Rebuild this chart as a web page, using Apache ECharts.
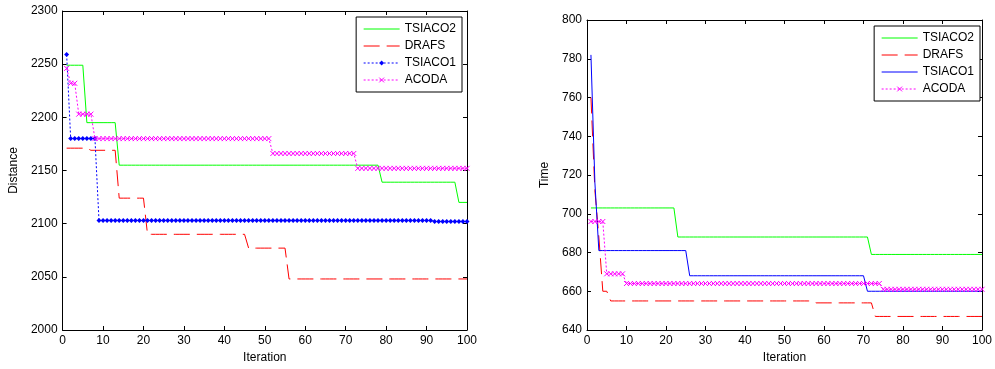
<!DOCTYPE html>
<html><head><meta charset="utf-8">
<script src="https://cdn.jsdelivr.net/npm/echarts@6/dist/echarts.min.js"></script>
<style>
html,body{margin:0;padding:0;background:#fff;}
#c1{position:absolute;left:0;top:0;width:520px;height:369px;}
#c2{position:absolute;left:520px;top:0;width:475px;height:369px;}
</style></head><body><div id="c1"></div><div id="c2"></div>
<script>
// ---- Data ----
const seriesNames = ['TSIACO2', 'DRAFS', 'TSIACO1', 'ACODA'];
const xTicks = [0, 10, 20, 30, 40, 50, 60, 70, 80, 90, 100];
const distTicks = [2000, 2050, 2100, 2150, 2200, 2250, 2300];
const timeTicks = [640, 660, 680, 700, 720, 740, 760, 780, 800];

// Left chart: Distance per iteration (1..100)
const distTSIACO2 = [
2249,2249,2249,2249,2249,2195,2195,2195,2195,2195,
2195,2195,2195,2155,2155,2155,2155,2155,2155,2155,
2155,2155,2155,2155,2155,2155,2155,2155,2155,2155,
2155,2155,2155,2155,2155,2155,2155,2155,2155,2155,
2155,2155,2155,2155,2155,2155,2155,2155,2155,2155,
2155,2155,2155,2155,2155,2155,2155,2155,2155,2155,
2155,2155,2155,2155,2155,2155,2155,2155,2155,2155,
2155,2155,2155,2155,2155,2155,2155,2155,2139,2139,
2139,2139,2139,2139,2139,2139,2139,2139,2139,2139,
2139,2139,2139,2139,2139,2139,2139,2120,2120,2120];
const distDRAFS = [
2171,2171,2171,2171,2171,2171,2169,2169,2169,2169,
2169,2169,2169,2124,2124,2124,2124,2124,2124,2124,
2090,2090,2090,2090,2090,2090,2090,2090,2090,2090,
2090,2090,2090,2090,2090,2090,2090,2090,2090,2090,
2090,2090,2090,2090,2090,2077,2077,2077,2077,2077,
2077,2077,2077,2077,2077,2048,2048,2048,2048,2048,
2048,2048,2048,2048,2048,2048,2048,2048,2048,2048,
2048,2048,2048,2048,2048,2048,2048,2048,2048,2048,
2048,2048,2048,2048,2048,2048,2048,2048,2048,2048,
2048,2048,2048,2048,2048,2048,2048,2048,2048,2048];
const distTSIACO1 = [
2259,2180,2180,2180,2180,2180,2180,2180,2103,2103,
2103,2103,2103,2103,2103,2103,2103,2103,2103,2103,
2103,2103,2103,2103,2103,2103,2103,2103,2103,2103,
2103,2103,2103,2103,2103,2103,2103,2103,2103,2103,
2103,2103,2103,2103,2103,2103,2103,2103,2103,2103,
2103,2103,2103,2103,2103,2103,2103,2103,2103,2103,
2103,2103,2103,2103,2103,2103,2103,2103,2103,2103,
2103,2103,2103,2103,2103,2103,2103,2103,2103,2103,
2103,2103,2103,2103,2103,2103,2103,2103,2103,2103,
2103,2102,2102,2102,2102,2102,2102,2102,2102,2102];
const distACODA = [
2246,2232,2232,2203,2203,2203,2203,2180,2180,2180,
2180,2180,2180,2180,2180,2180,2180,2180,2180,2180,
2180,2180,2180,2180,2180,2180,2180,2180,2180,2180,
2180,2180,2180,2180,2180,2180,2180,2180,2180,2180,
2180,2180,2180,2180,2180,2180,2180,2180,2180,2180,
2180,2166,2166,2166,2166,2166,2166,2166,2166,2166,
2166,2166,2166,2166,2166,2166,2166,2166,2166,2166,
2166,2166,2152,2152,2152,2152,2152,2152,2152,2152,
2152,2152,2152,2152,2152,2152,2152,2152,2152,2152,
2152,2152,2152,2152,2152,2152,2152,2152,2152,2152];

// Right chart: Time per iteration (1..100)
const timeTSIACO2 = [
703,703,703,703,703,703,703,703,703,703,
703,703,703,703,703,703,703,703,703,703,
703,703,688,688,688,688,688,688,688,688,
688,688,688,688,688,688,688,688,688,688,
688,688,688,688,688,688,688,688,688,688,
688,688,688,688,688,688,688,688,688,688,
688,688,688,688,688,688,688,688,688,688,
688,679,679,679,679,679,679,679,679,679,
679,679,679,679,679,679,679,679,679,679,
679,679,679,679,679,679,679,679,679,679];
const timeDRAFS = [
760,712,688,660,660,655,655,655,655,655,
655,655,655,655,655,655,655,655,655,655,
655,655,655,655,655,655,655,655,655,655,
655,655,655,655,655,655,655,655,655,655,
655,655,655,655,655,655,655,655,655,655,
655,655,655,655,655,655,655,654,654,654,
654,654,654,654,654,654,654,654,654,654,
654,654,647,647,647,647,647,647,647,647,
647,647,647,647,647,647,647,647,647,647,
647,647,647,647,647,647,647,647,647,647];
const timeTSIACO1 = [
782,716,681,681,681,681,681,681,681,681,
681,681,681,681,681,681,681,681,681,681,
681,681,681,681,681,668,668,668,668,668,
668,668,668,668,668,668,668,668,668,668,
668,668,668,668,668,668,668,668,668,668,
668,668,668,668,668,668,668,668,668,668,
668,668,668,668,668,668,668,668,668,668,
660,660,660,660,660,660,660,660,660,660,
660,660,660,660,660,660,660,660,660,660,
660,660,660,660,660,660,660,660,660,660];
const timeACODA = [
696,696,696,696,669,669,669,669,669,664,
664,664,664,664,664,664,664,664,664,664,
664,664,664,664,664,664,664,664,664,664,
664,664,664,664,664,664,664,664,664,664,
664,664,664,664,664,664,664,664,664,664,
664,664,664,664,664,664,664,664,664,664,
664,664,664,664,664,664,664,664,664,664,
664,664,664,664,661,661,661,661,661,661,
661,661,661,661,661,661,661,661,661,661,
661,661,661,661,661,661,661,661,661,661];

// ---- Rendering ----
const FONT = "'Liberation Sans', Arial, sans-serif";
const pairs = vals => vals.map((v, i) => [i + 1, v]);
const X_MARK = 'path://M0,0L10,10M10,0L0,10';
const CLEAR = 'rgba(0,0,0,0)';

function axisCommon(ticks, extra) {
  return Object.assign({
    type: 'value',
    min: ticks[0], max: ticks[ticks.length - 1],
    interval: ticks[1] - ticks[0],
    axisLine: { show: true, onZero: false, lineStyle: { color: '#000', width: 1 } },
    axisTick: { show: true, inside: true, length: 4, lineStyle: { color: '#000' } },
    splitLine: { show: false },
    axisLabel: { color: '#000', fontSize: 12, fontFamily: FONT, margin: 5, formatter: v => String(v) },
    nameTextStyle: { color: '#000', fontSize: 12, fontFamily: FONT }
  }, extra);
}

function makeOption(grid, yTicks, yName, yGap, legendPos, data, blueStyle) {
  const styles = [
    { color: '#00ff00', type: 'solid', symbol: 'none' },
    { color: '#ff0000', type: [16, 7], symbol: 'none' },
    blueStyle,
    { color: '#ff00ff', type: [2, 2], symbol: X_MARK, symbolSize: 5, hollow: true }
  ];
  const legendData = seriesNames.map((n, k) => {
    const s = styles[k];
    const item = { name: n, lineStyle: { type: s.type, width: 1, color: s.color } };
    if (s.symbol === 'none') {
      item.itemStyle = { color: CLEAR, borderColor: CLEAR, borderWidth: 0 };
    } else if (s.hollow) {
      item.itemStyle = { color: CLEAR, borderColor: s.color, borderWidth: 1 };
    } else {
      item.itemStyle = { color: s.color, borderWidth: 0 };
    }
    return item;
  });
  return {
    animation: false,
    backgroundColor: '#fff',
    grid: grid,
    legend: Object.assign({
      orient: 'vertical',
      data: legendData,
      backgroundColor: '#fff',
      borderColor: '#000', borderWidth: 1,
      padding: [6, 6, 6, 7],
      itemGap: 5, itemWidth: 36, itemHeight: 6,
      textStyle: { color: '#000', fontSize: 12, fontFamily: FONT }
    }, legendPos),
    xAxis: [
      axisCommon(xTicks, { position: 'bottom', name: 'Iteration', nameLocation: 'middle', nameGap: 22 }),
      axisCommon(xTicks, { position: 'top', axisLabel: { show: false } })
    ],
    yAxis: [
      axisCommon(yTicks, { position: 'left', name: yName, nameLocation: 'middle', nameGap: yGap }),
      axisCommon(yTicks, { position: 'right', axisLabel: { show: false } })
    ],
    series: seriesNames.map((n, k) => {
      const s = styles[k];
      return {
        name: n, type: 'line', xAxisIndex: 0, yAxisIndex: 0,
        data: pairs(data[k]),
        symbol: s.symbol === 'none' ? 'circle' : s.symbol,
        symbolSize: s.symbolSize || 4,
        showSymbol: s.symbol !== 'none',
        lineStyle: { color: s.color, width: 1, type: s.type },
        itemStyle: s.hollow
          ? { color: CLEAR, borderColor: s.color, borderWidth: 1 }
          : { color: s.color, borderWidth: 0 },
        emphasis: { disabled: true },
        z: 2 + k
      };
    })
  };
}

const c1 = echarts.init(document.getElementById('c1'), null, { renderer: 'canvas' });
c1.setOption(makeOption(
  { left: 60, top: 11, width: 407, height: 321 },
  distTicks, 'Distance', 40,
  { right: 58, top: 17 },
  [distTSIACO2, distDRAFS, distTSIACO1, distACODA],
  { color: '#0000ff', type: [2, 2], symbol: 'diamond', symbolSize: 5 }
));

const c2 = echarts.init(document.getElementById('c2'), null, { renderer: 'canvas' });
c2.setOption(makeOption(
  { left: 67, top: 20, width: 398, height: 313 },
  timeTicks, 'Time', 34,
  { right: 15, top: 26 },
  [timeTSIACO2, timeDRAFS, timeTSIACO1, timeACODA],
  { color: '#0000ff', type: 'solid', symbol: 'none' }
));
</script>
</body></html>
